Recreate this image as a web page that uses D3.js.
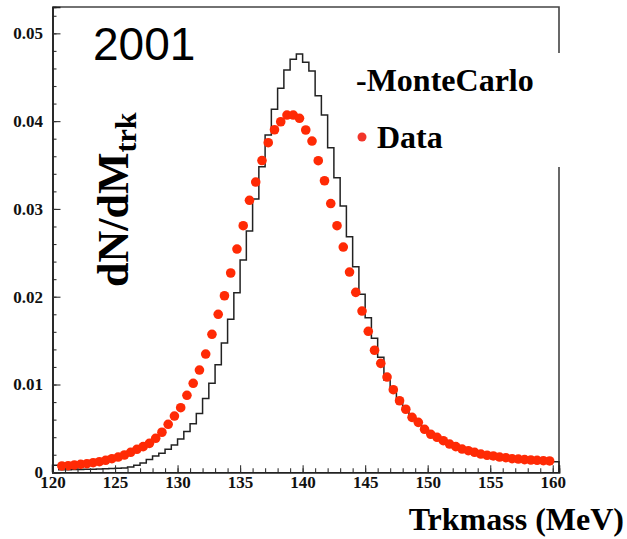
<!DOCTYPE html>
<html>
<head>
<meta charset="utf-8">
<script src="https://cdn.jsdelivr.net/npm/d3@7"></script>
<style>
  html, body { margin: 0; padding: 0; background: #fff; }
  svg { display: block; }
  .tick text { font-family: "Liberation Serif", "DejaVu Serif", serif; font-weight: bold; fill: #111; }
</style>
</head>
<body>
<div id="chart"></div>
<script>
// MC histogram: 0.5 MeV bins, low edges 120.0 .. 160.0
const mcValues = [
  0.0008, 0.0003, 0.0003, 0.00031, 0.00032, 0.00034, 0.00036, 0.00038, 0.0004, 0.00043,
  0.00046, 0.0005, 0.0006, 0.0008, 0.00107, 0.00146, 0.00186, 0.00216, 0.00262, 0.00311,
  0.0038, 0.00466, 0.00554, 0.0067, 0.0084, 0.01014, 0.01226, 0.01472, 0.01743, 0.02046,
  0.02418, 0.02748, 0.03113, 0.03481, 0.03842, 0.04134, 0.04374, 0.04582, 0.04704, 0.04764,
  0.0467, 0.04571, 0.04289, 0.04069, 0.03697, 0.03355, 0.03033, 0.02683, 0.02342, 0.02027,
  0.01761, 0.01526, 0.0131, 0.01051, 0.00937, 0.00804, 0.0071, 0.0062, 0.0056, 0.0049,
  0.0043, 0.0039, 0.0035, 0.0032, 0.0029, 0.0026, 0.0024, 0.0022, 0.002, 0.0019,
  0.0018, 0.0017, 0.0016, 0.0015, 0.0015, 0.0014, 0.0014, 0.0013, 0.0013, 0.0013,
  0.00121
];
const mcBinLow = d3.range(120, 160.25, 0.5);
const mcBinWidth = 0.5;

// Data points at bin centres 120.75 .. 159.75
const dataMass = d3.range(120.75, 160, 0.5);
const dataValues = [
  0.00072, 0.00075, 0.00083, 0.00091, 0.00098, 0.00109, 0.00121, 0.00137, 0.00155, 0.00174,
  0.00197, 0.00228, 0.00262, 0.00292, 0.0033, 0.00387, 0.00456, 0.00547, 0.00641, 0.00736,
  0.00877, 0.01014, 0.01165, 0.01347, 0.01572, 0.018, 0.02011, 0.0227, 0.02543, 0.02809,
  0.03098, 0.03306, 0.03551, 0.03754, 0.03902, 0.03993, 0.04069, 0.04069, 0.04032, 0.03899,
  0.03773, 0.03549, 0.03321, 0.03061, 0.02809, 0.02566, 0.02281, 0.0205, 0.01837, 0.01606,
  0.0139, 0.01241, 0.01085, 0.00941, 0.00815, 0.00718, 0.00626, 0.00569, 0.0049, 0.00433,
  0.00399, 0.0036, 0.00322, 0.00292, 0.00265, 0.00246, 0.00228, 0.00208, 0.00194, 0.00186,
  0.00174, 0.00166, 0.00155, 0.00151, 0.00144, 0.0014, 0.00137, 0.00132, 0.00129
];

const xTicks = [120, 125, 130, 135, 140, 145, 150, 155, 160];
const xMinorTicks = d3.range(120, 161, 1);
const yTicks = [0, 0.01, 0.02, 0.03, 0.04, 0.05];
const yMinorTicks = d3.range(0, 0.0521, 0.002);

const width = 627, height = 539;
const plot = { left: 52.5, right: 559, top: 7, bottom: 472.3 };

const svg = d3.select("#chart").append("svg")
  .attr("width", width).attr("height", height);

const x = d3.scaleLinear().domain([120, 160.5]).range([plot.left, plot.right]);
const y = d3.scaleLinear().domain([0, 0.053]).range([plot.bottom, plot.top]);

// frame (top + right)
svg.append("path")
  .attr("d", `M${plot.left},${plot.top}H${plot.right}V${plot.bottom}`)
  .attr("fill", "none").attr("stroke", "#444").attr("stroke-width", 1.6);

// MC histogram as a step line
const histPts = [[120, 0]]
  .concat(mcBinLow.map((m, i) => [m, mcValues[i]]))
  .concat([[mcBinLow[mcBinLow.length - 1] + mcBinWidth, 0]]);
const step = d3.line()
  .x(d => x(d[0])).y(d => y(d[1]))
  .curve(d3.curveStepAfter);
svg.append("path")
  .attr("d", step(histPts))
  .attr("fill", "none").attr("stroke", "#222").attr("stroke-width", 1.5);

// data points
svg.append("g").selectAll("circle")
  .data(dataMass.map((m, i) => [m, dataValues[i]]))
  .join("circle")
  .attr("cx", d => x(d[0])).attr("cy", d => y(d[1]))
  .attr("r", 4.8).attr("fill", "#ff2a05");

// axes
const xAxis = svg.append("g").attr("transform", `translate(0,${plot.bottom})`);
xAxis.call(d3.axisBottom(x).tickValues(xMinorTicks).tickSize(-4).tickFormat(""));
xAxis.call(g => g.append("g").call(d3.axisBottom(x).tickValues(xTicks).tickSize(-7).tickPadding(4).tickFormat(d3.format("d"))));

const yAxis = svg.append("g").attr("transform", `translate(${plot.left},0)`);
yAxis.call(d3.axisLeft(y).tickValues(yMinorTicks).tickSize(-4).tickFormat(""));
yAxis.call(g => g.append("g").call(d3.axisLeft(y).tickValues(yTicks).tickSize(-8).tickPadding(9.5)
  .tickFormat(d => d === 0 ? "0" : d.toFixed(2))));

svg.selectAll(".domain").attr("stroke", "#222").attr("stroke-width", 1.6);
svg.selectAll(".tick line").attr("stroke", "#333").attr("stroke-width", 1.1);
svg.selectAll(".tick text").style("font-size", "17px");

// legend box (white, covers frame)
svg.append("rect").attr("x", 345).attr("y", 53).attr("width", 225).attr("height", 114).attr("fill", "#fff");
svg.append("text").attr("x", 356).attr("y", 91)
  .style("font-family", "Liberation Serif, serif").style("font-weight", "bold").style("font-size", "32px")
  .text("-MonteCarlo");
svg.append("circle").attr("cx", 362).attr("cy", 137).attr("r", 4.5).attr("fill", "#f2352a");
svg.append("text").attr("x", 377).attr("y", 148)
  .style("font-family", "Liberation Serif, serif").style("font-weight", "bold").style("font-size", "32px")
  .text("Data");

// year label
svg.append("text").attr("x", 93).attr("y", 60)
  .style("font-family", "Liberation Sans, Arial, sans-serif").style("font-size", "46px")
  .text("2001");

// axis titles
svg.append("text").attr("x", 624).attr("y", 530).attr("text-anchor", "end")
  .style("font-family", "Liberation Serif, serif").style("font-weight", "bold").style("font-size", "32px")
  .text("Trkmass (MeV)");

const yt = svg.append("text")
  .attr("transform", "translate(128,287) rotate(-90)")
  .style("font-family", "Liberation Serif, serif").style("font-weight", "bold").style("font-size", "44px");
yt.append("tspan").text("dN/dM");
yt.append("tspan").attr("dy", 8).style("font-size", "30px").text("trk");
</script>
</body>
</html>
